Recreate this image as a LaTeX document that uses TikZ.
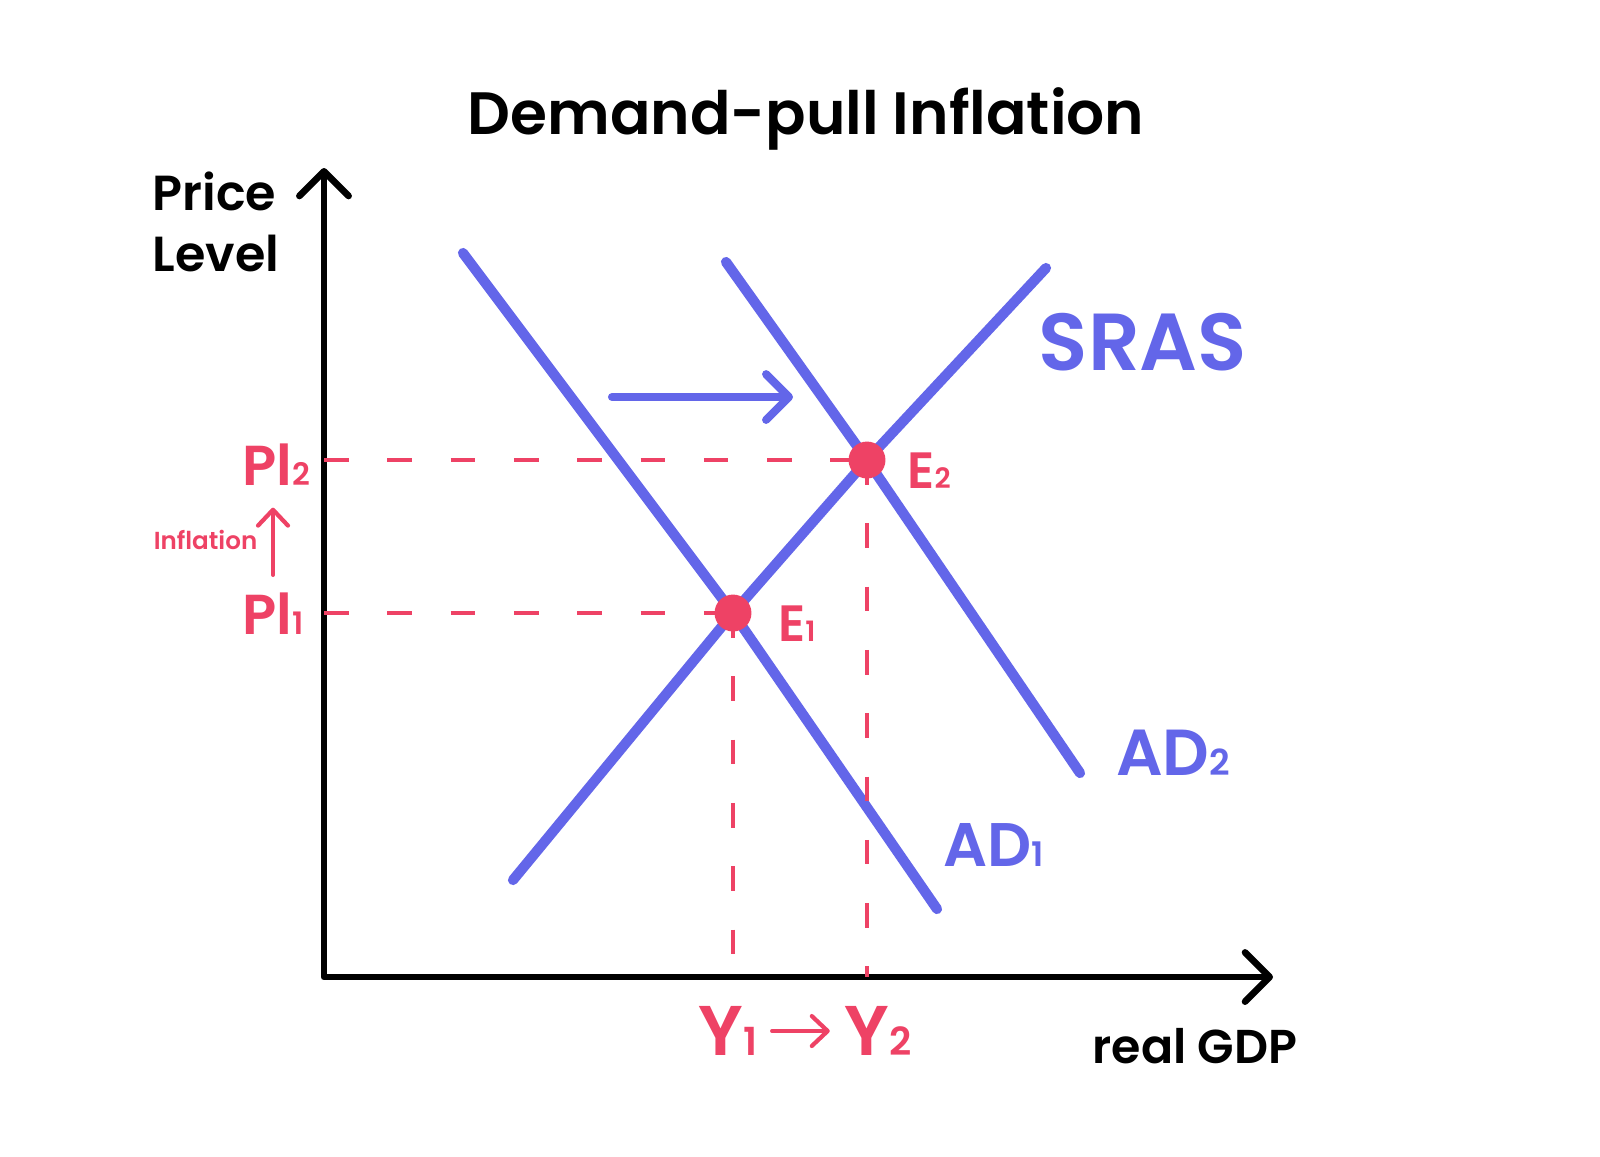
\documentclass[tikz,border=0pt]{standalone}
\usepackage{fontspec}
\setmainfont{Poppins}[BoldFont={Poppins SemiBold}]
\usetikzlibrary{arrows.meta}
\definecolor{curveblue}{HTML}{6366E9}
\definecolor{levelred}{HTML}{EE4265}
\newcommand{\sub}[1]{\scalebox{0.55}{#1}}
\newcommand{\fs}[1]{\fontsize{#1}{1.15\dimexpr#1\relax}\selectfont\bfseries}

\begin{document}
\begin{tikzpicture}[x=0.01cm, y=-0.01cm,
    axis/.style={line width=1.9pt, line join=round,
        {Straight Barb[length=7pt,width=14pt,round]}-{Straight Barb[length=7pt,width=14pt,round]}},
    curve/.style={curveblue, line width=2.9pt, line cap=round, line join=round},
    shiftarrow/.style={curveblue, line width=2.3pt, line cap=round,
        -{Straight Barb[length=6.5pt,width=13pt,round]}},
    redarrow/.style={levelred, line width=1.2pt, line cap=round,
        -{Straight Barb[length=4.5pt,width=8.5pt,round]}},
    guide/.style={levelred, line width=1.4pt, dash pattern=on 7pt off 11pt},
    eqdot/.style={circle, fill=levelred, inner sep=0pt, minimum size=10.5pt},
    redlbl/.style={levelred, inner sep=0pt},
    bluelbl/.style={curveblue, inner sep=0pt}]
    \useasboundingbox (0,0) rectangle (1600,1156);
    \node[inner sep=0pt, font=\fs{17pt}] (title) at (806,119) {Demand-pull Inflation};
    \node[inner sep=0pt, anchor=west, align=left, font=\fontsize{14pt}{17.3pt}\selectfont\bfseries] (pricelvl) at (152,222) {Price\\Level};
    \coordinate (origin) at (324,977);
    \coordinate (ytip) at (324,168);
    \coordinate (xtip) at (1273,977);
    \draw[axis] (ytip) -- (origin) -- (xtip);
    \coordinate (e1) at (733,613);
    \coordinate (e2) at (867,460);
    \coordinate (srasbot) at (513,880);
    \coordinate (srastop) at (1046,268);
    \coordinate (adonetop) at (463,253);
    \coordinate (adonebot) at (937,909);
    \coordinate (adtwotop) at (726,262);
    \coordinate (adtwobot) at (1080,773);
    \draw[curve] (srasbot) -- (e1) -- (e2) -- (srastop);
    \draw[curve] (adonetop) -- (e1) -- (adonebot);
    \draw[curve] (adtwotop) -- (e2) -- (adtwobot);
    \draw[guide] (origin |- e2) -- (e2);
    \draw[guide] (origin |- e1) -- (e1);
    \draw[guide] (e1) -- (e1 |- origin);
    \draw[guide] (e2) -- (e2 |- origin);
    \node[eqdot] (dotone) at (e1) {};
    \node[eqdot] (dottwo) at (e2) {};
    \coordinate (shiftfrom) at (612,397);
    \coordinate (shiftto) at (793,397);
    \draw[shiftarrow] (shiftfrom) -- (shiftto);
    \node[bluelbl, font=\fs{23pt}] (sraslbl) at (1143,342) {SRAS};
    \node[bluelbl, font=\fs{18.5pt}] (adtwolbl) at (1173,753) {AD\sub{2}};
    \node[bluelbl, font=\fs{17.5pt}] (adonelbl) at (994,845) {AD\sub{1}};
    \node[redlbl, font=\fs{14.5pt}] (etwolbl) at (929,471) {E\sub{2}};
    \node[redlbl, font=\fs{14.5pt}] (eonelbl) at (797,624) {E\sub{1}};
    \node[redlbl, font=\fs{16pt}] (pltwo) at (276,465) {Pl\sub{2}};
    \node[redlbl, font=\fs{16pt}] (plone) at (273,614) {Pl\sub{1}};
    \draw[redarrow, shorten <=5pt, shorten >=6pt] (plone.north) -- (plone.north |- pltwo.south);
    \node[redlbl, font=\fs{7pt}, anchor=east] (infl) at (258,540) {Inflation};
    \node[redlbl, font=\fs{20pt}] (yone) at (728,1031) {Y\sub{1}};
    \node[redlbl, font=\fs{20pt}] (ytwo) at (878,1031) {Y\sub{2}};
    \draw[redarrow, shorten <=4pt, shorten >=4pt] (yone) -- (ytwo);
    \node[inner sep=0pt, font=\fs{13.5pt}] (gdp) at (1195,1046) {real GDP};
\end{tikzpicture}
\end{document}
